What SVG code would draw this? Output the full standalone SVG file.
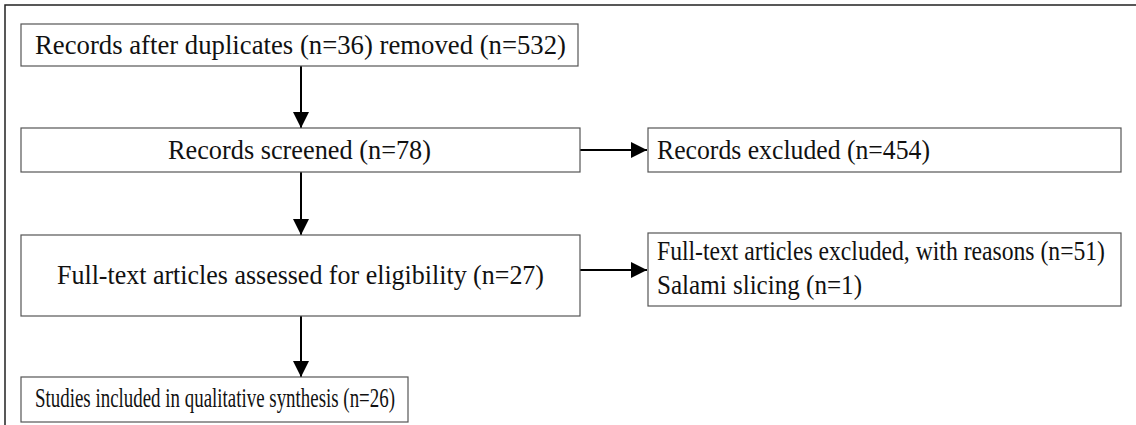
<svg xmlns="http://www.w3.org/2000/svg" width="1136" height="425" viewBox="0 0 1136 425">
<style>
.box{fill:#fff;stroke:#555;stroke-width:1.2}
.t{font-family:"Liberation Serif","DejaVu Serif",serif;font-size:27px;fill:#111}
.c{stroke:#000;stroke-width:2;fill:none}
.frame{stroke:#222;stroke-width:1.5;fill:none}
</style>
<defs>
<marker id="ah" markerWidth="16" markerHeight="16" refX="16" refY="8" orient="auto" markerUnits="userSpaceOnUse" viewBox="0 0 16 16">
<path d="M0,0 L16,8 L0,16 Z" fill="#000"/>
</marker>
</defs>
<rect width="1136" height="425" fill="#fff"/>
<path class="frame" d="M5,425 V5 H1136"/>
<g id="connectors">
<line class="c" x1="301" y1="66" x2="301" y2="128" marker-end="url(#ah)"/>
<line class="c" x1="301" y1="172" x2="301" y2="235" marker-end="url(#ah)"/>
<line class="c" x1="301" y1="316" x2="301" y2="377" marker-end="url(#ah)"/>
<line class="c" x1="580" y1="150" x2="647" y2="150" marker-end="url(#ah)"/>
<line class="c" x1="580" y1="270" x2="647" y2="270" marker-end="url(#ah)"/>
</g>
<g id="n1">
<rect class="box" x="21" y="24" width="557" height="42"/>
<text class="t" font-family="Liberation Serif, serif" x="35" y="54" textLength="531" lengthAdjust="spacingAndGlyphs">Records after duplicates (n=36) removed (n=532)</text>
</g>
<g id="n2">
<rect class="box" x="21" y="128" width="559" height="44"/>
<text class="t" font-family="Liberation Serif, serif" x="168" y="159" textLength="263" lengthAdjust="spacingAndGlyphs">Records screened (n=78)</text>
</g>
<g id="n2r">
<rect class="box" x="648" y="128" width="473" height="44"/>
<text class="t" font-family="Liberation Serif, serif" x="657" y="159" textLength="273" lengthAdjust="spacingAndGlyphs">Records excluded (n=454)</text>
</g>
<g id="n3">
<rect class="box" x="21" y="235" width="559" height="81"/>
<text class="t" font-family="Liberation Serif, serif" x="57" y="284" textLength="487" lengthAdjust="spacingAndGlyphs">Full-text articles assessed for eligibility (n=27)</text>
</g>
<g id="n3r">
<rect class="box" x="648" y="233" width="473" height="73"/>
<text class="t" font-family="Liberation Serif, serif" x="657" y="260" textLength="448" lengthAdjust="spacingAndGlyphs">Full-text articles excluded, with reasons (n=51)</text>
<text class="t" font-family="Liberation Serif, serif" x="657" y="294" textLength="205" lengthAdjust="spacingAndGlyphs">Salami slicing (n=1)</text>
</g>
<g id="n4">
<rect class="box" x="21" y="377" width="387" height="45"/>
<text class="t" font-family="Liberation Serif, serif" font-size="25" x="35" y="407" textLength="360" lengthAdjust="spacingAndGlyphs">Studies included in qualitative synthesis (n=26)</text>
</g>
</svg>
